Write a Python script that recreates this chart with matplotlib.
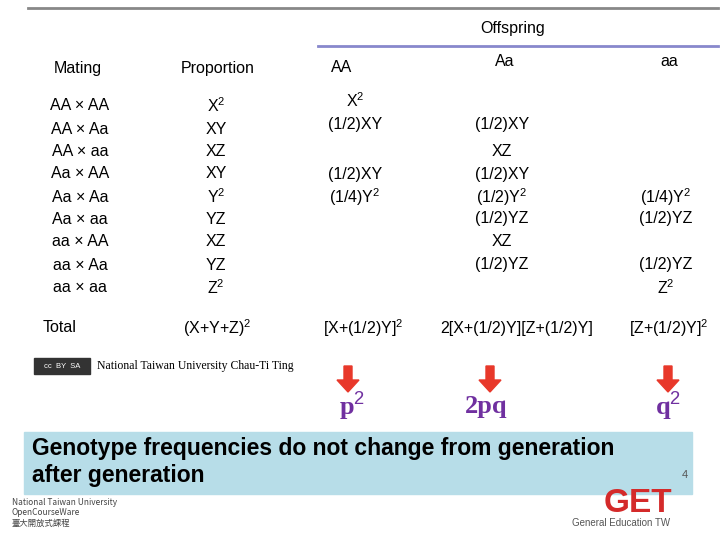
import matplotlib
matplotlib.use("Agg")
import matplotlib.pyplot as plt
from matplotlib.patches import Rectangle, FancyArrow

matings = ["AA × AA","AA × Aa","AA × aa","Aa × AA","Aa × Aa","Aa × aa","aa × AA","aa × Aa","aa × aa"]
proportions = ["X$^2$","XY","XZ","XY","Y$^2$","YZ","XZ","YZ","Z$^2$"]
col_AA = {0:"X$^2$",1:"(1/2)XY",3:"(1/2)XY",4:"(1/4)Y$^2$"}
col_Aa = {1:"(1/2)XY",2:"XZ",3:"(1/2)XY",4:"(1/2)Y$^2$",5:"(1/2)YZ",6:"XZ",7:"(1/2)YZ"}
col_aa = {4:"(1/4)Y$^2$",5:"(1/2)YZ",7:"(1/2)YZ",8:"Z$^2$"}
totals = ["(X+Y+Z)$^2$","[X+(1/2)Y]$^2$","2[X+(1/2)Y][Z+(1/2)Y]","[Z+(1/2)Y]$^2$"]

plt.rcParams['font.family'] = ['Liberation Sans','DejaVu Sans']
plt.rcParams['mathtext.fontset'] = 'custom'
plt.rcParams['mathtext.rm'] = 'Liberation Sans'
fig = plt.figure(figsize=(7.2,5.4), dpi=100)
ax = fig.add_axes([0,0,1,1])
ax.set_xlim(0,720); ax.set_ylim(540,0); ax.axis('off')

ax.plot([28,718],[8,8],color='#888888',lw=2)
ax.plot([318,718],[46,46],color='#8888cc',lw=2)
fs=11.5
ax.text(513,28,"Offspring",ha='center',va='center',fontsize=fs)
ax.text(78,68,"Mating",ha='center',va='center',fontsize=fs)
ax.text(218,68,"Proportion",ha='center',va='center',fontsize=fs)
ax.text(342,68,"AA",ha='center',va='center',fontsize=fs)
ax.text(505,62,"Aa",ha='center',va='center',fontsize=fs)
ax.text(669,62,"aa",ha='center',va='center',fontsize=fs)
ys=[106,129,152,174,197,219,242,265,288]
for i,y in enumerate(ys):
    ax.text(80,y,matings[i],ha='center',va='center',fontsize=fs)
    ax.text(216,y,proportions[i],ha='center',va='center',fontsize=fs)
for col,x in ((col_AA,355),(col_Aa,502),(col_aa,666)):
    for i,t in col.items():
        y=ys[i]
        if col is col_AA and i<2: y-=5
        if col is col_Aa and i==1: y-=5
        ax.text(x,y,t,ha='center',va='center',fontsize=fs)
for t,x in zip(totals,[217,363,517,669]):
    ax.text(x,328,t,ha='center',va='center',fontsize=fs)
ax.text(60,328,"Total",ha='center',va='center',fontsize=fs)
ax.add_patch(Rectangle((34,358),56,16,color='#333333'))
ax.text(62,366,"cc  BY  SA",ha='center',va='center',fontsize=5.5,color='white')
ax.text(97,366,"National Taiwan University Chau-Ti Ting",va='center',fontsize=8.5,family='Liberation Serif')
for x in [348,490,668]:
    ax.add_patch(FancyArrow(x,366,0,14,width=8,head_width=22,head_length=12,color='#e8382a'))
for t,x in zip(["p$^2$","2pq","q$^2$"],[352,486,668]):
    ax.text(x,406,t,ha='center',va='center',fontsize=19,color='#7030a0',family='Liberation Serif',fontweight='bold')
ax.add_patch(Rectangle((24,432),668,62,color='#b7dde8'))
ax.text(32,462,"Genotype frequencies do not change from generation\nafter generation",va='center',fontsize=16.5,fontweight='bold',linespacing=1.25)
ax.text(12,498,"National Taiwan University\nOpenCourseWare\n臺大開放式課程",va='top',fontsize=6,color='#444444',family=['Noto Sans CJK TC','DejaVu Sans'])
ax.text(604,503,"GET",fontsize=24,color='#d42a2a',fontweight='bold',va='center')
ax.text(572,523,"General Education TW",fontsize=7,color='#555555',va='center')
ax.text(682,478,"4",fontsize=8,color='#555555')
fig.savefig("out.png",dpi=100)
